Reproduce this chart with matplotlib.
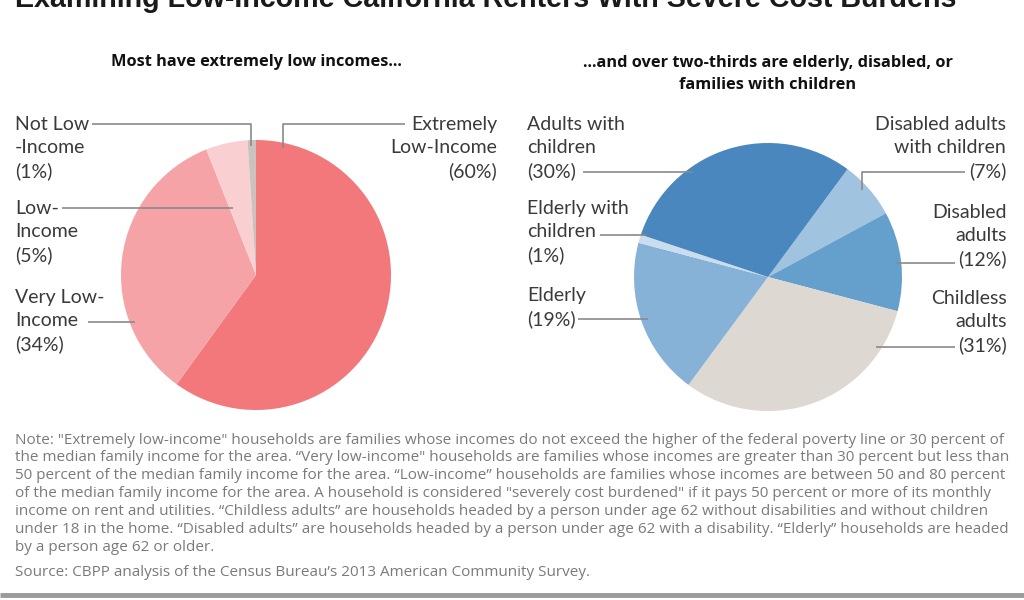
import matplotlib.pyplot as plt

# data
income_labels = ['Extremely\nLow-Income\n(60%)', 'Very Low-\nIncome\n(34%)', 'Low-\nIncome\n(5%)', 'Not Low\n-Income\n(1%)']
income_share = [60, 34, 5, 1]
income_colors = ['#F2787C', '#F5A3A6', '#F9CFD2', '#C9C2BE']

house_labels = ['Disabled adults\nwith children\n(7%)', 'Disabled\nadults\n(12%)', 'Childless\nadults\n(31%)',
                'Elderly\n(19%)', 'Elderly with\nchildren\n(1%)', 'Adults with\nchildren\n(30%)']
house_share = [7, 12, 31, 19, 1, 30]
house_colors = ['#A0C3E0', '#65A0CD', '#DED8D2', '#86B2D8', '#C9DDEE', '#4B87BF']

note_lines = [
    'Note: "Extremely low-income" households are families whose incomes do not exceed the higher of the federal poverty line or 30 percent of',
    'the median family income for the area. \u201cVery low-income" households are families whose incomes are greater than 30 percent but less than',
    '50 percent of the median family income for the area. \u201cLow-income\u201d households are families whose incomes are between 50 and 80 percent',
    'of the median family income for the area. A household is considered "severely cost burdened" if it pays 50 percent or more of its monthly',
    'income on rent and utilities. \u201cChildless adults\u201d are households headed by a person under age 62 without disabilities and without children',
    'under 18 in the home. \u201cDisabled adults\u201d are households headed by a person under age 62 with a disability. \u201cElderly\u201d households are headed',
    'by a person age 62 or older.',
]
source = 'Source: CBPP analysis of the Census Bureau\u2019s 2013 American Community Survey.'

H = 600
Y = lambda y: H - y  # pixel rows from the top

fig = plt.figure(figsize=(10.24, 6), dpi=100)
ax = fig.add_axes([0, 0, 1, 1])

ax.pie(income_share, colors=income_colors, startangle=90, counterclock=False,
       center=(256, Y(275)), radius=135, wedgeprops=dict(linewidth=0))
ax.pie(house_share, colors=house_colors, startangle=53.6, counterclock=False,
       center=(768, Y(277)), radius=134, wedgeprops=dict(linewidth=0))
ax.set_xlim(0, 1024)
ax.set_ylim(0, H)
ax.axis('off')

lab = dict(family='Lato', fontsize=14, color='#3A3A3A', linespacing=1.42, va='center')
lc = '#8A8A8A'

def leader(xs, ys):
    ax.plot(xs, [Y(v) for v in ys], color=lc, lw=1.2, solid_capstyle='butt')

# left pie labels
ax.text(15, Y(148), income_labels[3], ha='left', **lab)
leader([92, 251, 251], [124, 124, 146])
ax.text(497, Y(148), income_labels[0], ha='right', **lab)
leader([405, 283, 283], [124, 124, 148])
ax.text(15, Y(232), income_labels[2], ha='left', **lab)
leader([62, 233], [208, 208])
ax.text(15, Y(321), income_labels[1], ha='left', **lab)
leader([88, 135], [322, 322])

# right pie labels
ax.text(527, Y(148), house_labels[5], ha='left', **lab)
leader([583, 693], [172, 172])
ax.text(527, Y(232), house_labels[4], ha='left', **lab)
leader([600, 646], [235, 235])
ax.text(527, Y(308), house_labels[3], ha='left', **lab)
leader([578, 648], [319, 319])
ax.text(1006, Y(148), house_labels[0], ha='right', **lab)
leader([965, 862, 862], [172, 172, 190])
ax.text(1007, Y(236), house_labels[1], ha='right', **lab)
leader([955, 896], [263, 263])
ax.text(1007, Y(322), house_labels[2], ha='right', **lab)
leader([955, 876], [347, 347])

# titles
ax.text(15, Y(7), 'Examining Low-Income California Renters With Severe Cost Burdens',
        family='Liberation Sans', fontweight='bold', fontsize=20.6, color='#1A1A1A', va='baseline')
sub = dict(family='Open Sans', fontweight='bold', fontsize=11.8, color='#111111', ha='center', va='center', linespacing=1.45)
ax.text(256, Y(62), 'Most have extremely low incomes...', **sub)
ax.text(768, Y(74), '...and over two-thirds are elderly, disabled, or\nfamilies with children', **sub)

# note
note = dict(family='Open Sans', fontsize=11.0, color='#7A7A7A', va='center')
for i, line in enumerate(note_lines):
    ax.text(15, Y(440 + i * 17.9), line, **note)
ax.text(15, Y(573), source, **note)

ax.plot([0, 1024], [Y(595), Y(595)], color='#9A9A9A', lw=3.5, solid_capstyle='butt')

fig.savefig('out.png', dpi=100)
